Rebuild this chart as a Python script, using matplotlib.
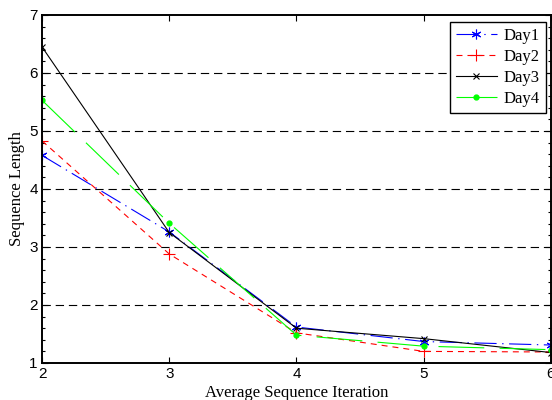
import matplotlib
matplotlib.use("Agg")
import matplotlib.pyplot as plt
import matplotlib.ticker as ticker

plt.rcParams['lines.scale_dashes'] = False

iterations = [2, 3, 4, 5, 6]
day1 = [4.58, 3.26, 1.62, 1.37, 1.31]
day2 = [4.83, 2.88, 1.52, 1.20, 1.19]
day3 = [6.45, 3.25, 1.60, 1.42, 1.18]
day4 = [5.53, 3.41, 1.48, 1.29, 1.23]
labels = ['Day1', 'Day2', 'Day3', 'Day4']

fig = plt.figure(figsize=(5.52, 4.0), dpi=100)
ax = fig.add_axes([0.0761, 0.0925, 0.922, 0.87])

tick_font = 'Liberation Sans'
serif = 'Liberation Serif'

ax.plot(iterations, day1, color='#0000ff', lw=0.8, dashes=(16, 4, 1, 4),
        marker=(6, 2, 0), ms=7, mew=0.8, label=labels[0])
ax.plot(iterations, day2, color='#ff0000', lw=0.8, dashes=(4.3, 3.6),
        marker='+', ms=8, mew=0.8, label=labels[1])
ax.plot(iterations, day3, color='black', lw=0.8, ls='-',
        marker='x', ms=5, mew=0.8, label=labels[2])
ax.plot(iterations, day4, color='#00ff00', lw=0.8, dashes=(33, 11),
        marker='.', ms=7, label=labels[3])

ax.set_xlim(2, 6)
ax.set_ylim(1, 7)
ax.set_xticks(iterations)
ax.yaxis.set_major_locator(ticker.MultipleLocator(1))
ax.yaxis.set_minor_locator(ticker.MultipleLocator(0.2))

# horizontal grid only, matlab style
for yv in [2, 3, 4, 5, 6]:
    ax.axhline(yv, color='black', lw=0.8, dashes=(6, 3.5), zorder=0)

for s in ax.spines.values():
    s.set_linewidth(1.4)

ax.tick_params(which='both', direction='in', top=True, right=True)
ax.tick_params(which='major', length=4, width=0.8, labelsize=11, pad=3)
ax.tick_params(which='minor', length=2.5, width=0.8)
for t in ax.get_xticklabels() + ax.get_yticklabels():
    t.set_fontfamily(tick_font)

ax.set_xlabel('Average Sequence Iteration', fontfamily=serif, fontsize=12, labelpad=3)
ax.set_ylabel('Sequence Length', fontfamily=serif, fontsize=12, labelpad=3)

leg = ax.legend(loc='upper right', bbox_to_anchor=(0.990, 0.980), borderaxespad=0,
                prop={'family': serif, 'size': 12}, handlelength=2.5,
                fancybox=False, framealpha=1, edgecolor='black',
                labelspacing=0.3, borderpad=0.35, handletextpad=0.4)
leg.get_frame().set_linewidth(1.0)

fig.savefig('out.png', dpi=100)
